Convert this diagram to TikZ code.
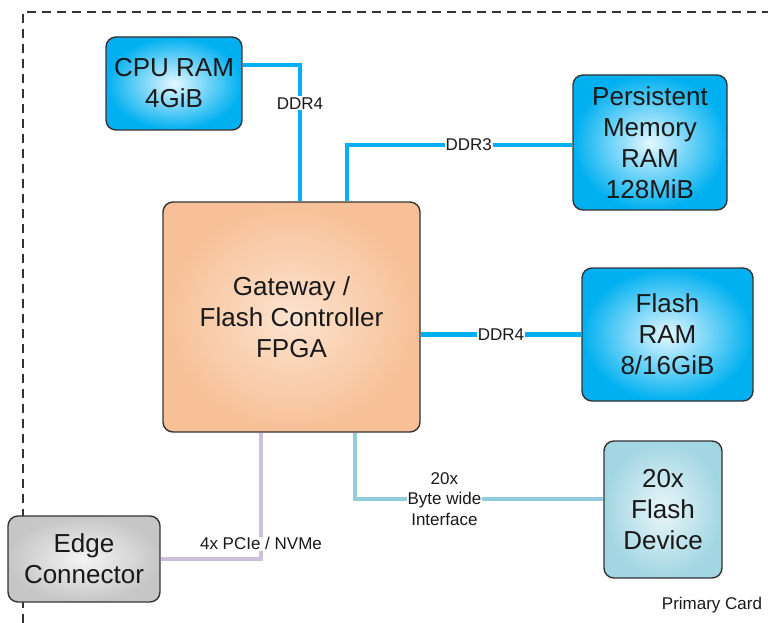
\documentclass[tikz,border=0pt]{standalone}
\usepackage{fontspec}
\setmainfont{Liberation Sans}
\usepackage{xcolor}

\definecolor{ramblue}{HTML}{00B0F0}
\definecolor{ramlight}{HTML}{E4F7FF}
\definecolor{fpgaorange}{HTML}{F7C096}
\definecolor{fpgalight}{HTML}{FCE3CF}
\definecolor{flashblue}{HTML}{A2D6E3}
\definecolor{flashlight}{HTML}{EAF6F9}
\definecolor{edgegray}{HTML}{C6C6C6}
\definecolor{edgelight}{HTML}{F4F4F4}
\definecolor{flashline}{HTML}{92CDDC}
\definecolor{pcieline}{HTML}{CCC0DA}
\definecolor{rim}{HTML}{333333}

\begin{document}
\begin{tikzpicture}[x=1pt, y=-1pt,
    box/.style={rectangle, draw=rim, line width=1.4pt, rounded corners=10pt, align=center,
        inner sep=0pt, text=black!90, font=\fontsize{26}{31}\selectfont},
    ram/.style={box, inner color=ramlight, outer color=ramblue},
    lbl/.style={fill=white, inner sep=1pt, align=center, text=black!90, font=\fontsize{17}{20.5}\selectfont},
    link/.style={line width=4.5pt}]

    \useasboundingbox (0,0) rectangle (768,623);

    % Card boundary
    \draw[rim, line width=1.4pt, dash pattern=on 9pt off 6pt] (23,623) -- (23,12) -- (768,12);
    \node[font=\fontsize{17}{20}\selectfont, text=black!90] (card) at (712,605) {Primary Card};

    % FPGA in the middle
    \node[box, inner color=fpgalight, outer color=fpgaorange, minimum width=257pt, minimum height=230pt]
        (fpga) at (291.5,317) {Gateway /\\Flash Controller\\FPGA};

    % Memories
    \node[ram, minimum width=136pt, minimum height=93pt] (cpu) at (174,83.5) {CPU RAM\\4GiB};
    \node[ram, minimum width=154pt, minimum height=135pt] (pmem) at (650,142.5) {Persistent\\Memory\\RAM\\128MiB};
    \node[ram, minimum width=171pt, minimum height=133pt] (fram) at (667.5,334.5) {Flash\\RAM\\8/16GiB};

    % Flash and edge
    \node[box, inner color=flashlight, outer color=flashblue, minimum width=118pt, minimum height=137pt]
        (fdev) at (663,509.5) {20x\\Flash\\Device};
    \node[box, inner color=edgelight, outer color=edgegray, minimum width=152pt, minimum height=86pt]
        (edge) at (84,559) {Edge\\Connector};

    % Connections
    \draw[link, ramblue] ([yshift=18.5pt]cpu.east) -| ([xshift=8.5pt]fpga.north)
        node[lbl, pos=0.64] {DDR4};
    \draw[link, ramblue] ([xshift=55.5pt]fpga.north) |- ([yshift=-2.5pt]pmem.west)
        node[lbl, pos=0.77] {DDR3};
    \draw[link, ramblue] (fpga.east |- fram.west) -- (fram.west)
        node[lbl, midway] {DDR4};
    \draw[link, flashline] ([xshift=63.5pt]fpga.south) |- ([yshift=10.5pt]fdev.west)
        node[lbl, pos=0.68] {20x\\Byte wide\\Interface};
    \draw[link, pcieline] ([xshift=-30.5pt]fpga.south) |- (edge.east)
        node[lbl, pos=0.44] {4x PCIe / NVMe};
\end{tikzpicture}
\end{document}
